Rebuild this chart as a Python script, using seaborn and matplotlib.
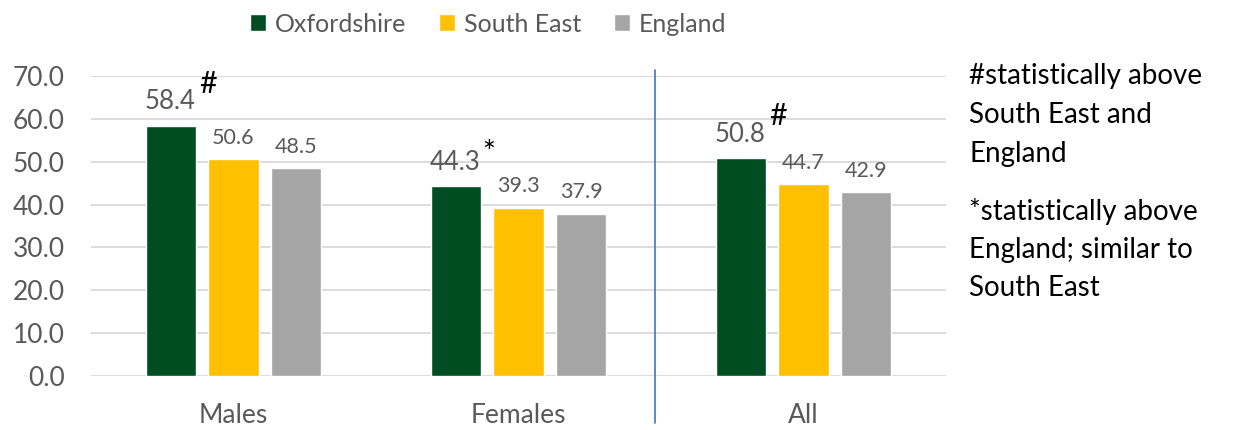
import matplotlib
matplotlib.use("Agg")
import matplotlib.pyplot as plt
import seaborn as sns
import pandas as pd

# ---- data ----
categories = ["Males", "Females", "All"]
areas = ["Oxfordshire", "South East", "England"]
oxfordshire = [58.4, 44.3, 50.8]
south_east = [50.6, 39.3, 44.7]
england = [48.5, 37.9, 42.9]
markers = ["#", "*", "#"]          # significance markers on Oxfordshire bars
y_ticks = [0, 10, 20, 30, 40, 50, 60, 70]
note_lines_1 = ["#statistically above", "South East and", "England"]
note_lines_2 = ["*statistically above", "England; similar to", "South East"]

colors = {"Oxfordshire": "#004D22", "South East": "#FFC000", "England": "#A5A5A5"}

df = pd.DataFrame({
    "category": categories * 3,
    "area": [a for a in areas for _ in categories],
    "value": oxfordshire + south_east + england,
})

sns.set_style("white")
plt.rcParams["font.family"] = ["Lato", "DejaVu Sans"]

DPI = 100
W, H = 1234, 430
fig = plt.figure(figsize=(W / DPI, H / DPI), dpi=DPI)
PX = 72 / DPI  # points per pixel

ax_l, ax_r, ax_t, ax_b = 91, 946, 76, 376
ax = fig.add_axes([ax_l / W, 1 - ax_b / H, (ax_r - ax_l) / W, (ax_b - ax_t) / H])

sns.barplot(data=df, x="category", y="value", hue="area", order=categories,
            hue_order=areas, palette=colors, width=0.663, gap=0.206,
            saturation=1, ax=ax, errorbar=None)

ax.set_xlim(-0.5, 2.5)
ax.set_ylim(0, 70)
ax.set_yticks(y_ticks)
ax.set_yticklabels([f"{v:.1f}" for v in y_ticks])
ax.yaxis.grid(True, color="#D9D9D9", linewidth=1.3)
ax.set_axisbelow(True)
for s in ax.spines.values():
    s.set_visible(False)
ax.tick_params(axis="y", length=0, pad=26 * PX, labelsize=19, labelcolor="#595959")
ax.tick_params(axis="x", length=0, pad=27 * PX, labelsize=19, labelcolor="#595959")
ax.set_xlabel("")
ax.set_ylabel("")

# data labels
for i, cont in enumerate(ax.containers):
    for j, bar in enumerate(cont):
        xc = bar.get_x() + bar.get_width() / 2
        h = bar.get_height()
        if i == 0:
            ax.annotate(f"{h:.1f}", (xc, h), xytext=(0, 16.5 * PX), textcoords="offset points",
                        ha="center", va="baseline", fontsize=18.5, color="#595959")
            mk = markers[j]
            dy = 33 if mk == "#" else 24
            dx = 29 if mk == "#" else 27
            ax.annotate(mk, (xc, h), xytext=(dx * PX, dy * PX), textcoords="offset points",
                        ha="left", va="baseline", fontsize=22, color="black")
        else:
            ax.annotate(f"{h:.1f}", (xc, h), xytext=(0, 15.6 * PX), textcoords="offset points",
                        ha="center", va="baseline", fontsize=15.5, color="#595959")

# separator line
ax.plot([1.48, 1.48], [-11, 71.4], color="#4472C4", linewidth=1.2, clip_on=False)

# legend
handles, labels = ax.get_legend_handles_labels()
ax.get_legend().remove()
fig.legend(handles, labels, loc="center", bbox_to_anchor=(488 / W, 1 - 24 / H),
           ncol=3, frameon=False, fontsize=18, labelcolor="#595959",
           handlelength=0.65, handleheight=0.65, handletextpad=0.35,
           columnspacing=1.3, borderaxespad=0)

# notes on the right
tx = 969
for k, line in enumerate(note_lines_1):
    fig.text(tx / W, 1 - (84 + 39 * k) / H, line, fontsize=20, color="black", va="baseline")
for k, line in enumerate(note_lines_2):
    fig.text(tx / W, 1 - (220 + 38 * k) / H, line, fontsize=20, color="black", va="baseline")

fig.savefig("out.png", dpi=DPI)
